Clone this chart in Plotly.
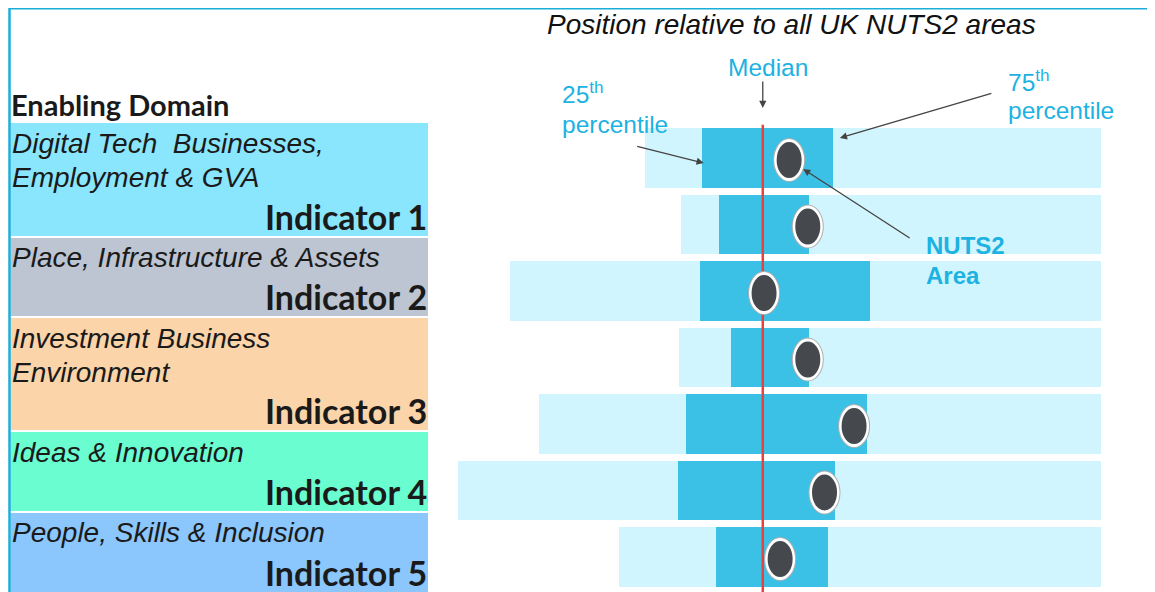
import plotly.graph_objects as go

# ---------------- data ----------------
rows = [0, 1, 2, 3, 4, 5, 6]
range_min = [29.1, 34.7, 8.1, 34.4, 12.6, 0.0, 25.0]
range_max = [100, 100, 100, 100, 100, 100, 100]
pct25 = [37.9, 40.6, 37.6, 42.5, 35.5, 34.2, 40.1]
pct75 = [58.3, 54.6, 64.1, 54.6, 63.6, 58.6, 57.5]
area_value = [51.5, 54.4, 47.6, 54.4, 61.6, 57.0, 50.1]
median_value = 47.4

domain_lines = [
    ["Digital Tech\u00a0 Businesses,", "Employment & GVA"],
    ["Place, Infrastructure & Assets"],
    ["Investment Business", "Environment"],
    ["Ideas & Innovation"],
    ["People, Skills & Inclusion"],
]
indicator_labels = ["Indicator 1", "Indicator 2", "Indicator 3", "Indicator 4", "Indicator 5"]
domain_colors = ["#8ae6fd", "#bcc5d1", "#fbd4a9", "#69fdd0", "#8bc6fc"]

# ---------------- layout helpers ----------------
# the page has an 8px body margin, so the figure is sized to fill the rest
OFF = 8
W, H = 1155 - OFF, 592 - OFF


def px(x):
    return (x - OFF) / W


def py(y):
    return 1 - (y - OFF) / H


CYAN_TXT = "#1cb2e2"
ARROW = "#444444"

fig = go.Figure()

fig.add_trace(go.Bar(
    y=rows, base=range_min,
    x=[mx - mn for mn, mx in zip(range_min, range_max)],
    orientation="h", width=0.9,
    marker=dict(color="#d1f5fe", line=dict(width=0)),
    hoverinfo="skip",
))
fig.add_trace(go.Bar(
    y=rows, base=pct25,
    x=[b - a for a, b in zip(pct25, pct75)],
    orientation="h", width=0.9,
    marker=dict(color="#3bc1e6", line=dict(width=0)),
    hoverinfo="skip",
))

shapes = []
annotations = []

# frame lines
shapes.append(dict(type="line", xref="paper", yref="paper", x0=px(9), x1=1, y0=py(8.2), y1=py(8.2),
                   line=dict(color="#1aaed8", width=2.5), layer="above"))
shapes.append(dict(type="line", xref="paper", yref="paper", x0=px(9.5), x1=px(9.5), y0=py(8), y1=0,
                   line=dict(color="#1aaed8", width=2.5), layer="above"))

# median line
shapes.append(dict(type="line", xref="x", yref="y", x0=median_value, x1=median_value,
                   y0=-0.5, y1=7.0, line=dict(color="#e8423f", width=2.5), layer="above"))

# NUTS2 area dots (ellipses anchored to data values)
for r, v in zip(rows, area_value):
    for (hw, hh, col) in [(16, 22, "#b0b0b0"), (15, 21, "#ffffff"), (12.5, 18, "#45484d")]:
        shapes.append(dict(type="circle", xref="x", yref="y", xsizemode="pixel", ysizemode="pixel",
                           xanchor=v, yanchor=r, x0=-hw, x1=hw, y0=-hh - 2, y1=hh - 2,
                           fillcolor=col, line=dict(width=0), layer="above"))

# left panel boxes
box_px = [(123, 236), (238, 316), (318, 430), (432, 511), (513, 592)]
for (t, b), col in zip(box_px, domain_colors):
    shapes.append(dict(type="rect", xref="paper", yref="paper", x0=px(10.5), x1=px(428),
                       y0=py(b), y1=py(t), fillcolor=col, line=dict(width=0), layer="below"))

ITAL = dict(family="Liberation Sans, Arial, sans-serif", size=28, color="#1a1a1a", style="italic")
BOLD = dict(family="Lato, Calibri, sans-serif", size=34, color="#1a1a1a", weight="bold")

annotations.append(dict(xref="paper", yref="paper", x=px(9), y=py(104), text="Enabling Domain",
                        showarrow=False, xanchor="left", yanchor="middle",
                        font=dict(family="Lato, Calibri, sans-serif", size=29, color="#1a1a1a", weight="bold")))

line_centers = [[143, 177], [257], [338, 372], [452], [532]]
ind_centers = [216, 296, 410, 491, 572]
for lines, centers, lab, ic in zip(domain_lines, line_centers, indicator_labels, ind_centers):
    for txt, cy in zip(lines, centers):
        annotations.append(dict(xref="paper", yref="paper", x=px(10), y=py(cy), text=txt,
                                showarrow=False, xanchor="left", yanchor="middle", font=ITAL))
    annotations.append(dict(xref="paper", yref="paper", x=px(429), y=py(ic), text=lab,
                            showarrow=False, xanchor="right", yanchor="middle", font=BOLD))

# title
annotations.append(dict(xref="paper", yref="paper", x=px(791), y=py(24),
                        text="Position relative to all UK NUTS2 areas", showarrow=False,
                        xanchor="center", yanchor="middle",
                        font=dict(family="Liberation Sans, Arial, sans-serif", size=28,
                                  color="#111111", style="italic")))

LBL = dict(family="Liberation Sans, Arial, sans-serif", size=24.5, color=CYAN_TXT)
LBLB = dict(family="Liberation Sans, Arial, sans-serif", size=24, color=CYAN_TXT, weight="bold")

annotations += [
    dict(xref="paper", yref="paper", x=px(768), y=py(68), text="Median", showarrow=False,
         xanchor="center", yanchor="middle", font=LBL),
    dict(xref="paper", yref="paper", x=px(560), y=py(93), text="25<sup>th</sup>", showarrow=False,
         xanchor="left", yanchor="middle", font=LBL),
    dict(xref="paper", yref="paper", x=px(560), y=py(124), text="percentile", showarrow=False,
         xanchor="left", yanchor="middle", font=LBL),
    dict(xref="paper", yref="paper", x=px(1006), y=py(80), text="75<sup>th</sup>", showarrow=False,
         xanchor="left", yanchor="middle", font=LBL),
    dict(xref="paper", yref="paper", x=px(1006), y=py(110), text="percentile", showarrow=False,
         xanchor="left", yanchor="middle", font=LBL),
    dict(xref="paper", yref="paper", x=px(924), y=py(245), text="NUTS2", showarrow=False,
         xanchor="left", yanchor="middle", font=LBLB),
    dict(xref="paper", yref="paper", x=px(924), y=py(275), text="Area", showarrow=False,
         xanchor="left", yanchor="middle", font=LBLB),
]

ARW = dict(showarrow=True, text="", arrowhead=2, arrowsize=1.1, arrowwidth=1.3,
           arrowcolor=ARROW, standoff=0, startstandoff=0)
annotations += [
    dict(xref="x", yref="paper", x=median_value, y=py(108), ax=0, ay=-28, **ARW),
    dict(xref="x", yref="paper", x=pct25[0], xshift=2, y=py(163), ax=-68, ay=-17, **ARW),
    dict(xref="x", yref="paper", x=pct75[0], xshift=7, y=py(138), ax=153, ay=-45, **ARW),
    dict(xref="x", yref="paper", x=area_value[0], xshift=14, y=py(169), ax=108, ay=70, **ARW),
]

# axis ranges chosen so that value 0 sits at page x=458 and 100 at x=1101,
# and row 0 is centred at page y=158 with 66.5 px per row
X_LO = (OFF - 458) / 6.43
X_HI = (1155 - 458) / 6.43
Y_TOP = (OFF - 158) / 66.5
Y_BOT = (592 - 158) / 66.5

fig.update_layout(
    width=W, height=H, margin=dict(l=0, r=0, t=0, b=0),
    paper_bgcolor="white", plot_bgcolor="white",
    barmode="overlay", showlegend=False, bargap=0,
    xaxis=dict(range=[X_LO, X_HI], visible=False, fixedrange=True),
    yaxis=dict(range=[Y_BOT, Y_TOP], visible=False, fixedrange=True),
    shapes=shapes, annotations=annotations,
)

fig.write_html("out.html", config={"displayModeBar": False})
